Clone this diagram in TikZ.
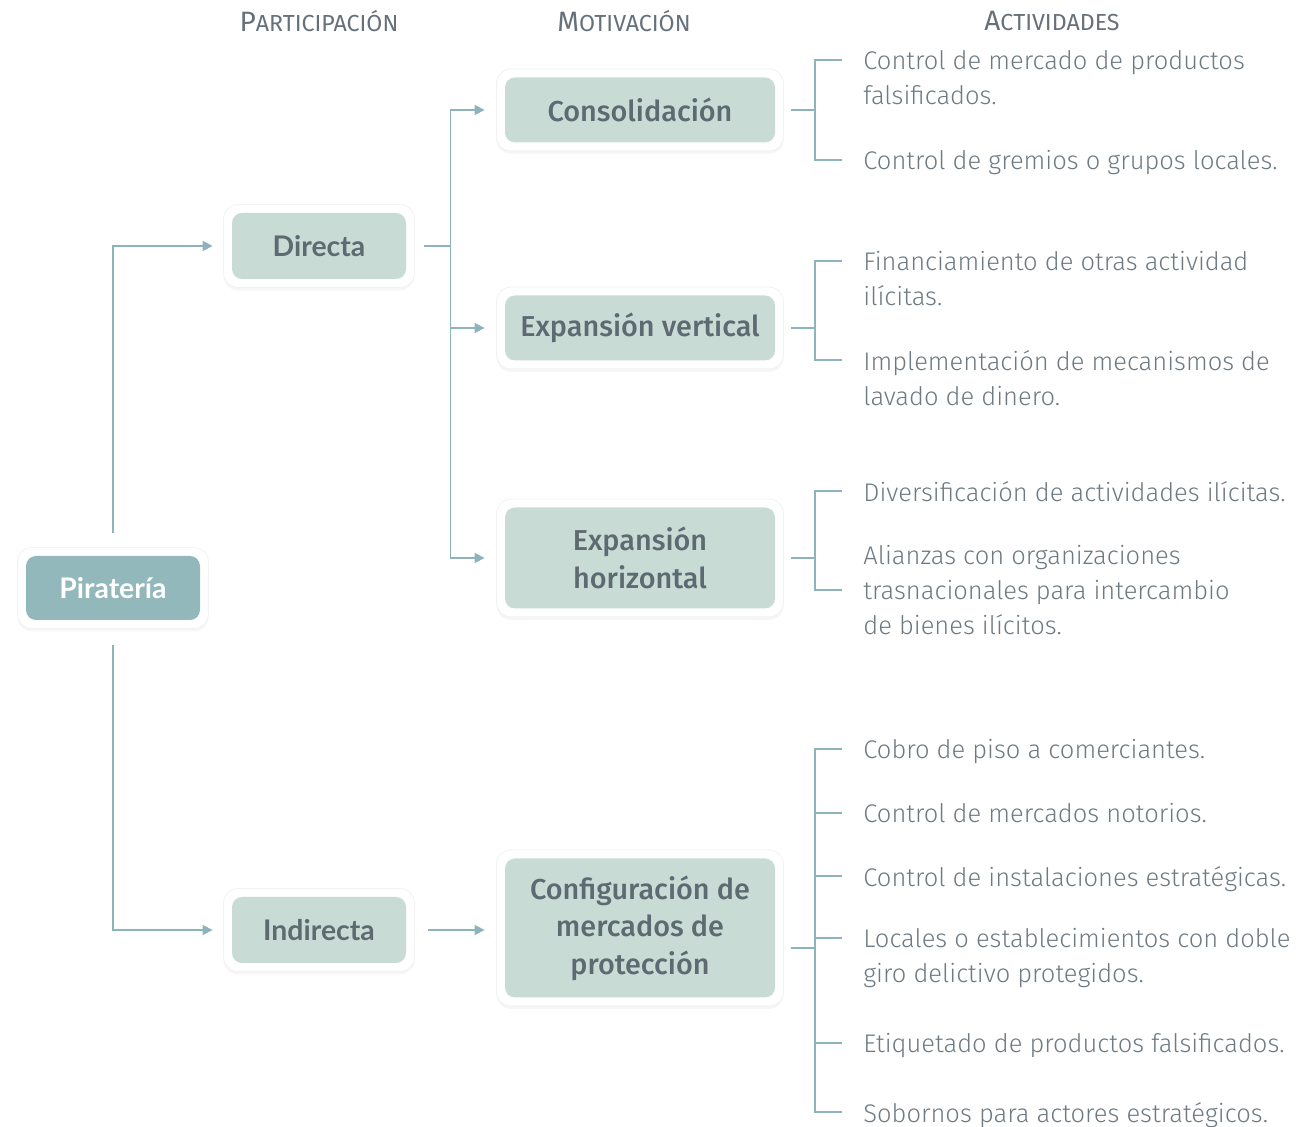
\documentclass[tikz,border=0pt]{standalone}
\usepackage{fontspec}
\setmainfont{Fira Sans}
\newfontfamily\itemfont{Fira Sans Light}
\newfontfamily\motfont{Fira Sans Medium}
\newfontfamily\latofont{Lato}
\usetikzlibrary{positioning}
\usetikzlibrary{arrows.meta}
\usetikzlibrary{shadows}
\usetikzlibrary{fit}
\usetikzlibrary{backgrounds}

\definecolor{linkcol}{HTML}{8DB4BA}
\definecolor{piracol}{HTML}{92B8BC}
\definecolor{boxcol}{HTML}{C8DCD5}
\definecolor{boxtext}{HTML}{5E6A72}
\definecolor{itemtext}{HTML}{6E7A82}
\definecolor{headtext}{HTML}{66707A}

\newcommand{\scword}[2]{{\fontsize{14}{16}\selectfont #1}{\fontsize{11.6}{16}\selectfont #2}}

\begin{document}
\begin{tikzpicture}[
    x=0.5pt, y=-0.5pt,
    card/.style={
        rectangle,
        rounded corners=5pt,
        fill=boxcol,
        text=boxtext,
        inner sep=0pt,
        align=center,
        },
    partbox/.style={
        card,
        minimum width=87pt,
        minimum height=33pt,
        font=\latofont\bfseries\fontsize{14.2}{17}\selectfont,
        },
    motbox/.style={
        card,
        minimum width=135pt,
        font=\motfont\fontsize{14.4}{18.75}\selectfont,
        },
    cardbg/.style={
        rectangle,
        rounded corners=7pt,
        fill=white,
        draw=black!5,
        inner sep=4pt,
        drop shadow={shadow xshift=0pt, shadow yshift=-1.5pt, opacity=0.07},
        },
    item/.style={
        anchor=north west,
        inner sep=0pt,
        align=left,
        text=itemtext,
        font=\itemfont\fontsize{12.75}{17.5}\selectfont,
        },
    head/.style={
        text=headtext,
        inner sep=0pt,
        },
    link/.style={
        draw=linkcol,
        line width=0.75pt,
        },
    arr/.style={
        link,
        -{Triangle[length=5pt, width=5pt]},
        },
    ]

    \useasboundingbox (0,0) rectangle (1302,1127);

    % column titles
    \node[head] (hpart) at (319,21) {\scword{P}{ARTICIPACIÓN}};
    \node[head] (hmot) at (624,21) {\scword{M}{OTIVACIÓN}};
    \node[head] (hact) at (1052,21) {\scword{A}{CTIVIDADES}};

    \node[partbox, fill=piracol, text=white, minimum height=32pt] (pir) at (113,588) {Piratería};
    \node[partbox] (dir) at (319,246) {Directa};
    \node[partbox] (ind) at (319,930) {Indirecta};

    \node[motbox, minimum height=32.5pt] (cons) at (640,110) {Consolidación};
    \node[motbox, minimum height=32.5pt] (ev) at (640,328) {Expansión vertical};
    \node[motbox, minimum height=50.5pt] (eh) at (640,558) {Expansión\\horizontal};
    \node[motbox, minimum height=69.5pt] (conf) at (640,928) {Configuración de\\mercados de\\protección};

    \begin{scope}[on background layer]
        \foreach \b in {pir,dir,ind,cons,ev,eh,conf}
            \node[cardbg, fit=(\b)] (bg\b) {};
    \end{scope}

    % activities
    \node[item] (a11) at (863,50) {Control de mercado de productos\\falsificados.};
    \node[item] (a12) at (863,150) {Control de gremios o grupos locales.};
    \node[item] (a21) at (863,251) {Financiamiento de otras actividad\\ilícitas.};
    \node[item] (a22) at (863,350) {Implementación de mecanismos de\\lavado de dinero.};
    \node[item] (a31) at (863,481) {Diversificación de actividades ilícitas.};
    \node[item] (a32) at (863,545) {Alianzas con organizaciones\\trasnacionales para intercambio\\de bienes ilícitos.};
    \node[item] (a41) at (863,739) {Cobro de piso a comerciantes.};
    \node[item] (a42) at (863,803) {Control de mercados notorios.};
    \node[item] (a43) at (863,866) {Control de instalaciones estratégicas.};
    \node[item] (a44) at (863,928) {Locales o establecimientos con doble\\giro delictivo protegidos.};
    \node[item] (a45) at (863,1033) {Etiquetado de productos falsificados.};
    \node[item] (a46) at (863,1102) {Sobornos para actores estratégicos.};

    \foreach \n in {a11,a12,a21,a22,a31,a41,a42,a43,a44,a45,a46}
        \coordinate (t\n) at ([shift={(-10.5pt,-5pt)}]\n.north west);
    \coordinate (ta32) at ([shift={(-10.5pt,-22.5pt)}]a32.north west);

    \coordinate (sp1) at ([xshift=-13.5pt]ta11);
    \coordinate (sp2) at ([xshift=-13.5pt]ta21);
    \coordinate (sp3) at ([xshift=-13.5pt]ta31);
    \coordinate (sp4) at ([xshift=-13.5pt]ta41);
    \coordinate (c4) at ([yshift=-10pt]conf.east);

    % participation
    \draw[arr, shorten <=11.5pt, shorten >=9.5pt] (pir.north) |- (dir.west);
    \draw[arr, shorten <=12.5pt, shorten >=9.5pt] (pir.south) |- (ind.west);

    % motivation
    \coordinate (split) at ([xshift=22pt]dir.east);
    \draw[link, shorten <=9pt] (dir.east) -- (split);
    \foreach \m in {cons,ev,eh}
        \draw[arr, shorten >=10pt] (split) |- (\m.west);
    \draw[arr, shorten <=11pt, shorten >=10pt] (ind.east) -- (ind.east -| conf.west);

    % brackets
    \draw[link, shorten <=8pt] (cons.east) -- (cons.east -| sp1);
    \draw[link] (ta11) -| (sp1) |- (ta12);
    \draw[link, shorten <=8pt] (ev.east) -- (ev.east -| sp2);
    \draw[link] (ta21) -| (sp2) |- (ta22);
    \draw[link, shorten <=8pt] (eh.east) -- (eh.east -| sp3);
    \draw[link] (ta31) -| (sp3) |- (ta32);
    \draw[link, shorten <=8pt] (c4) -- (c4 -| sp4);
    \draw[link] (ta41) -| (sp4) |- (ta46);
    \foreach \n in {a42,a43,a44,a45}
        \draw[link] (t\n) -- (t\n -| sp4);

\end{tikzpicture}
\end{document}
